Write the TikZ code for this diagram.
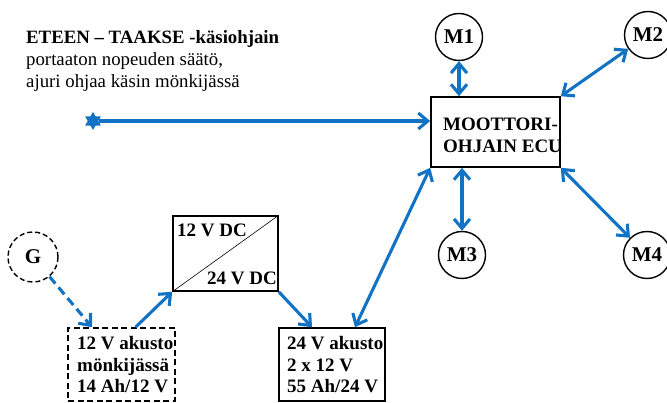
\documentclass[tikz,border=0pt]{standalone}
\usepackage{fontspec}
\setmainfont{Liberation Serif}
\usetikzlibrary{arrows.meta,shapes.geometric}
\definecolor{linkblue}{RGB}{18,114,196}
\begin{document}
\begin{tikzpicture}[x=1pt,y=-1pt,
  txt/.style={inner sep=0pt, font=\fontsize{18.8}{21.8}\selectfont, align=left, anchor=north west},
  boldtxt/.style={inner sep=0pt, font=\bfseries\fontsize{19}{21.8}\selectfont, align=left},
  motor/.style={circle, draw, line width=1.4pt, minimum size=47pt, inner sep=0pt,
    font=\bfseries\fontsize{21}{24}\selectfont},
  box/.style={draw, line width=1.6pt, inner sep=0pt},
  link/.style={draw=linkblue, line width=3.1pt,
    {Straight Barb[length=9.5pt,width=16pt]}-{Straight Barb[length=9.5pt,width=16pt]}},
  flow/.style={draw=linkblue, line width=3.1pt, -{Straight Barb[length=9.5pt,width=16pt]}}
]
\useasboundingbox (0,0) rectangle (667,403);

% hand controller description
\node[txt] (title) at (26,30.2)
  {\textbf{ETEEN – TAAKSE -käsiohjain}\\portaaton nopeuden säätö,\\ajuri ohjaa käsin mönkijässä};

% motor controller
\node[box, minimum width=129pt, minimum height=70pt] (ecu) at (495.5,132) {};
\node[boldtxt, anchor=north west] (ecutext) at (443,118.2) {MOOTTORI-\\OHJAIN ECU};

% motors
\node[motor] (m1) at (459,37) {M1};
\node[motor] (m2) at (648,35) {M2};
\node[motor] (m3) at (462,255) {M3};
\node[motor] (m4) at (647,255) {M4};

% generator and batteries
\node[motor, dashed, dash pattern=on 5pt off 3pt, minimum size=50pt] (g) at (33,257) {G};
\node[box, dashed, dash pattern=on 6pt off 3.5pt, minimum width=107pt, minimum height=73pt] (bat12) at (121.5,364.5) {};
\node[boldtxt, anchor=north west] (bat12text) at (77,336) {12 V akusto\\mönkijässä\\14 Ah/12 V};
\node[box, minimum width=106pt, minimum height=73pt] (bat24) at (332,364.5) {};
\node[boldtxt, anchor=north west] (bat24text) at (287,336) {24 V akusto\\2 x 12 V\\55 Ah/24 V};

% DC/DC converter
\node[box, minimum width=105pt, minimum height=75pt] (conv) at (225.5,253.5) {};
\draw[line width=0.6pt] (conv.south west) -- (conv.north east);
\node[boldtxt, anchor=base west] (convin) at (177,237) {12 V DC};
\node[boldtxt, anchor=base east] (convout) at (277,285) {24 V DC};

% hand controller signal
\node[star, star points=6, star point ratio=1.7, fill=linkblue, minimum size=18pt, inner sep=0pt] (hand) at (93,121) {};
\draw[flow] (hand) -- (hand -| ecu.west);

% connections
\draw[link] (m1) -- (m1 |- ecu.north);
\draw[link] (ecu.north east) -- (m2);
\draw[link] (ecu.south -| m3) -- (m3);
\draw[link] (ecu.south east) -- (m4);
\draw[link] (ecu.south west) -- ([xshift=23pt]bat24.north);
\draw[flow, dash pattern=on 9pt off 5pt] (g) -- ([xshift=-29.5pt]bat12.north);
\draw[flow] ([xshift=14pt]bat12.north) -- (conv.south west);
\draw[flow] (conv.south east) -- ([xshift=-20pt]bat24.north);
\end{tikzpicture}
\end{document}
